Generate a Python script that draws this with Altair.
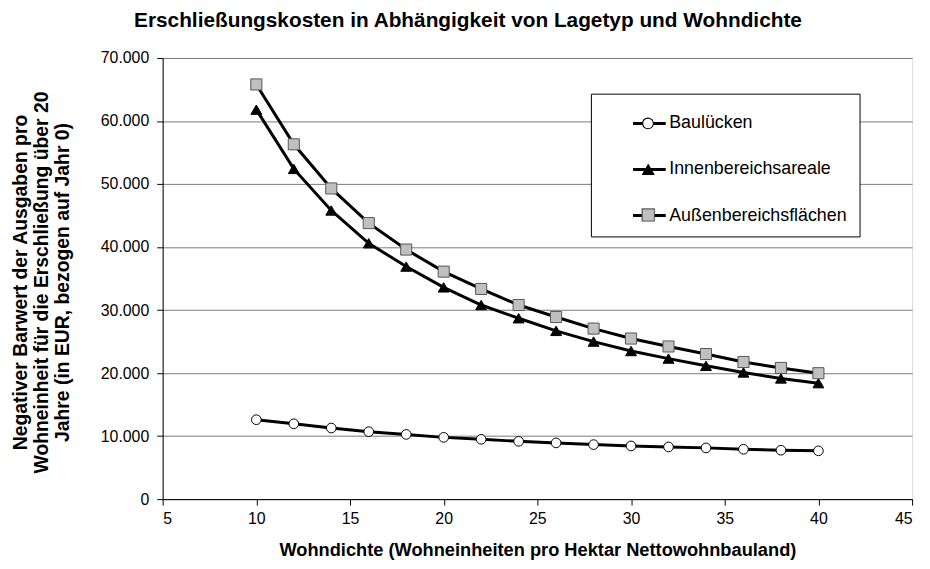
import math
import altair as alt
import pandas as pd

# Data
wohndichte = [10, 12, 14, 16, 18, 20, 22, 24, 26, 28, 30, 32, 34, 36, 38, 40]
bauluecken = [12600, 11950, 11280, 10700, 10270, 9800, 9490, 9170, 8920, 8650,
              8440, 8280, 8130, 7910, 7760, 7660]
innenbereich = [61800, 52400, 45800, 40600, 36900, 33600, 30800, 28700, 26700, 25000,
                23500, 22300, 21150, 20100, 19150, 18400]
aussenbereich = [65800, 56300, 49300, 43800, 39600, 36100, 33350, 30800, 28900, 27060,
                 25480, 24220, 23020, 21760, 20820, 19980]
serien = ["Baulücken", "Innenbereichsareale", "Außenbereichsflächen"]
x_ticks = [5, 10, 15, 20, 25, 30, 35, 40, 45]
y_ticks = [0, 10000, 20000, 30000, 40000, 50000, 60000, 70000]

rows = []
for name, vals in zip(serien, [bauluecken, innenbereich, aussenbereich]):
    for xv, yv in zip(wohndichte, vals):
        rows.append({"x": xv, "y": yv, "serie": name, "marker": name})
df = pd.DataFrame(rows)

FONT = "Liberation Sans"
NBSP = "\u00a0"

x_enc = alt.X(
    "x:Q",
    scale=alt.Scale(domain=[5, 45], nice=False, zero=False),
    axis=alt.Axis(
        values=x_ticks, grid=False, title="Wohndichte (Wohneinheiten pro Hektar Nettowohnbauland)",
        titleFont=FONT, titleFontSize=18.4, titleFontWeight="bold", titleColor="black",
        labelFont=FONT, labelFontSize=16, labelColor="black", labelPadding=6,
        titlePadding=14, tickSize=6, tickColor="black", domainColor="black",
    ),
)
y_enc = alt.Y(
    "y:Q",
    scale=alt.Scale(domain=[0, 70000], nice=False),
    axis=alt.Axis(
        values=y_ticks, grid=True, gridColor="#7a7a7a", gridWidth=1,
        labelExpr="replace(format(datum.value, ','), ',', '.')",
        title=["Negativer Barwert der Ausgaben pro",
               "Wohneinheit für die Erschließung über 20",
               "Jahre (in EUR, bezogen auf Jahr 0)"],
        titleFont=FONT, titleFontSize=19.5, titleFontWeight="bold", titleColor="black",
        titleAngle=270, titleX=-143, titleY=226, titleBaseline="middle", titleLineHeight=21,
        titleAlign="center",
        labelFont=FONT, labelFontSize=16, labelColor="black", labelPadding=8,
        tickSize=6, tickColor="black", domainColor="black",
    ),
)

base = alt.Chart(df).encode(x=x_enc, y=y_enc)

# legend box with the line samples and labels
lines = base.mark_line(strokeWidth=3).encode(
    color=alt.Color(
        "serie:N",
        scale=alt.Scale(domain=serien, range=["black", "black", "black"]),
        legend=alt.Legend(
            orient="none", legendX=432, legendY=36, title=None,
            symbolType="stroke", symbolSize=1089, symbolStrokeWidth=3,
            labelFont=FONT, labelFontSize=18, labelColor="black", labelLimit=400,
            labelExpr="datum.label + '" + NBSP * 8 + "'",
            strokeColor="black", fillColor="white", padding=12,
            rowPadding=19.5, symbolOffset=29, labelOffset=2, zindex=0,
        ),
    ),
    order="x:Q",
)

# marker styles per series: shape, fill, outline colour, size
styles = [
    ("circle", "white", "black", 95),
    ("triangle-up", "black", "black", 120),
    ("square", "#c0c0c0", "#555555", 125),
]
legend_cx = 489.5
legend_cy = [66, 112, 158]


def marker_legend(cx, cy, size, fill, z):
    half = math.sqrt(size) / 2
    return alt.Legend(
        orient="none", legendX=cx - half, legendY=cy - half, title=None,
        symbolFillColor=fill, symbolStrokeColor=fill, symbolSize=size,
        symbolStrokeWidth=0, symbolOpacity=1,
        labelFontSize=1, labelOpacity=0, labelExpr="''", labelOffset=0,
        padding=0, zindex=z,
    )


point_layers = []
for name, (shp, fc, sc, sz), cy in zip(serien, styles, legend_cy):
    filt = base.transform_filter(alt.datum.serie == name)
    outline_size = (math.sqrt(sz) + 2.2) ** 2
    # outline sample for the legend (invisible in the plot)
    outline = filt.mark_point(
        filled=True, fill=sc, stroke=sc, size=outline_size, strokeWidth=0, opacity=0
    ).encode(
        shape=alt.Shape("marker:N", scale=alt.Scale(range=[shp]),
                        legend=marker_legend(legend_cx, cy, outline_size, sc, 1))
    )
    pts = filt.mark_point(
        filled=True, fill=fc, stroke=sc, size=sz, strokeWidth=1, opacity=1
    ).encode(
        shape=alt.Shape("marker:N", scale=alt.Scale(range=[shp]),
                        legend=marker_legend(legend_cx, cy, sz, fc, 2))
    )
    point_layers += [outline, pts]

chart = (
    alt.layer(lines, *point_layers)
    .resolve_scale(shape="independent")
    .properties(
        width=756,
        height=445,
        title=alt.TitleParams(
            "Erschließungskosten in Abhängigkeit von Lagetyp und Wohndichte",
            font=FONT, fontSize=21, fontWeight="bold", color="black", offset=19, dx=-70,
        ),
        autosize=alt.AutoSizeParams(type="none"),
        padding={"left": 156, "top": 48, "right": 10, "bottom": 60},
    )
    .configure_view(stroke="black", strokeWidth=1)
    .configure(background="white")
)

chart.save("out.html", embed_options={"renderer": "svg", "actions": False})
